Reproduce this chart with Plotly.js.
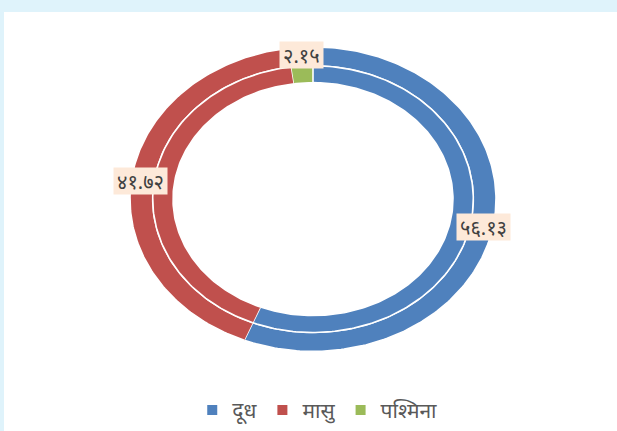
<!DOCTYPE html>
<html>
<head>
<meta charset="utf-8">
<script src="https://cdn.plot.ly/plotly-3.0.1.min.js"></script>
<style>
  html, body { margin: 0; padding: 0; background: #dff3fb; width: 617px; height: 431px; overflow: hidden; }
  #chart { position: absolute; left: 4px; top: 12px; width: 613px; height: 419px; background: #ffffff; }
</style>
</head>
<body>
<div id="chart"></div>
<script>
// Data
const categories = ['दूध', 'मासु', 'पश्मिना'];
const values = [56.13, 41.72, 2.15];
const colors = ['#4f81bd', '#c0504d', '#9bbb59'];
// ring bands (fraction of outer radius): outer ring, inner ring
const rings = [[0.876, 1.0], [0.765, 0.876]];

const devDigits = ['०','१','२','३','४','५','६','७','८','९'];
function toDev(v) {
  return v.toFixed(2).replace(/[0-9]/g, d => devDigits[+d]);
}

const total = values.reduce((a, b) => a + b, 0);
const traces = [];
const annotations = [];
let cum = 0;
values.forEach((v, i) => {
  const a0 = 90 - 360 * cum / total;
  const a1 = 90 - 360 * (cum + v) / total;
  cum += v;
  rings.forEach(([ri, ro], k) => {
    const xs = [], ys = [];
    const n = Math.max(4, Math.ceil(Math.abs(a1 - a0)));
    for (let s = 0; s <= n; s++) {
      const t = (a0 + (a1 - a0) * s / n) * Math.PI / 180;
      xs.push(ro * Math.cos(t)); ys.push(ro * Math.sin(t));
    }
    for (let s = n; s >= 0; s--) {
      const t = (a0 + (a1 - a0) * s / n) * Math.PI / 180;
      xs.push(ri * Math.cos(t)); ys.push(ri * Math.sin(t));
    }
    traces.push({
      type: 'scatter', mode: 'lines', x: xs, y: ys, fill: 'toself',
      fillcolor: colors[i], line: { color: '#ffffff', width: 1.6 },
      hoverinfo: 'skip', showlegend: false
    });
  });
  const am = ((a0 + a1) / 2) * Math.PI / 180;
  annotations.push({
    x: 0.95 * Math.cos(am), y: 0.95 * Math.sin(am), xref: 'x', yref: 'y',
    text: toDev(v), showarrow: false,
    font: { family: 'Noto Sans, DejaVu Sans, sans-serif', size: 20, color: '#404040' },
    bgcolor: '#fde9d9', borderpad: 3, height: 20
  });
});
// legend entries
categories.forEach((c, i) => {
  traces.push({
    type: 'scatter', mode: 'markers', x: [null], y: [null], name: c,
    marker: { symbol: 'square', size: 10, color: colors[i] }, hoverinfo: 'skip'
  });
});

const layout = {
  width: 613, height: 419,
  margin: { l: 0, r: 0, t: 0, b: 0 },
  paper_bgcolor: '#ffffff', plot_bgcolor: '#ffffff',
  xaxis: { range: [-309 / 183, 304 / 183], visible: false, fixedrange: true },
  yaxis: { range: [-231 / 153, 188 / 153], visible: false, fixedrange: true },
  showlegend: true,
  legend: {
    orientation: 'h', x: 0.511, xanchor: 'center', y: 0.045, yanchor: 'middle',
    font: { family: 'Noto Sans, DejaVu Sans, sans-serif', size: 21, color: '#595959' },
    bgcolor: 'rgba(0,0,0,0)', itemwidth: 30
  },
  annotations: annotations
};

Plotly.newPlot('chart', traces, layout, { staticPlot: true, displayModeBar: false });
</script>
</body>
</html>
